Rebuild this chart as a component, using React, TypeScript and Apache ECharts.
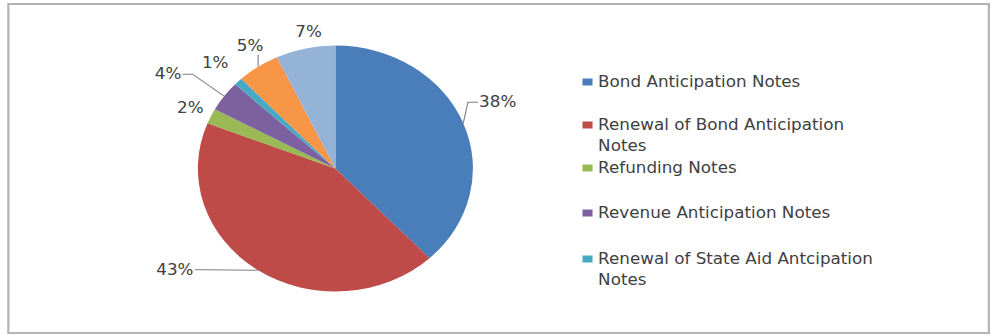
import React, { useEffect, useRef } from "react";
import * as echarts from "echarts";

// Data
const categories = [
  "Bond Anticipation Notes",
  "Renewal of Bond Anticipation Notes",
  "Refunding Notes",
  "Revenue Anticipation Notes",
  "Renewal of State Aid Antcipation Notes",
  "Tax Anticipation Notes",
  "Budget Notes",
];
const values = [38, 43, 2, 4, 1, 5, 7];
const colors = ["#4A7EBB", "#BE4B48", "#98B954", "#7D60A0", "#46AAC5", "#F79646", "#95B3D7"];
// Legend shows only the first five entries, as in the reference
const legendTexts = [
  "Bond Anticipation Notes",
  "Renewal of Bond Anticipation\nNotes",
  "Refunding Notes",
  "Revenue Anticipation Notes",
  "Renewal of State Aid Antcipation\nNotes",
];
// leader style per slice: "side" = stub + diagonal, "up" = vertical, "" = none
const leaderStyle = ["side", "side", "", "side", "", "up", ""];

const SCALE_X = 1.118;
const BASE_W = Math.round(996 / SCALE_X);
const H = 335;
const legendCenters = [82, 125, 168, 213, 259];
const LINE_H = 21;
// label nudges (screen px) relative to ECharts default outside position
const labelShift: [number, number][] = [
  [-7, -18],
  [-45, -7],
  [10, -5],
  [-24, -20],
  [8, -14],
  [21, -14],
  [33, -9],
];

export default function App() {
  const ref = useRef<HTMLDivElement>(null);
  useEffect(() => {
    if (!ref.current) return;
    const chart = echarts.init(ref.current, undefined, { renderer: "svg" });
    const legends = legendTexts.map((t, i) => {
      const twoLine = t.includes("\n");
      return {
        data: [categories[i]],
        orient: "vertical",
        left: 521,
        top: legendCenters[i] - (twoLine ? LINE_H * 1.5 : LINE_H / 2),
        padding: 0,
        icon: "rect",
        itemWidth: 9,
        itemHeight: 7,
        selectedMode: false,
        formatter: () => (twoLine ? "\n" + t : t),
        textStyle: {
          fontFamily: "DejaVu Sans",
          fontSize: 15,
          lineHeight: LINE_H,
          color: "#404040",
        },
      };
    });
    chart.setOption({
      animation: false,
      backgroundColor: "#ffffff",
      color: colors,
      graphic: [
        {
          type: "rect",
          shape: { x: 7.5, y: 4, width: 877, height: 329 },
          style: { fill: "none", stroke: "#b4b4b4", lineWidth: 2 },
          silent: true,
        },
      ],
      legend: legends,
      series: [
        {
          type: "pie",
          center: [300, 168.5],
          radius: 123,
          startAngle: 90,
          clockwise: true,
          data: categories.map((name, i) => ({
            name,
            value: values[i],
            labelLine: { show: leaderStyle[i] !== "" },
          })),
          itemStyle: { borderWidth: 0 },
          label: {
            show: true,
            position: "outside",
            formatter: "{c}%",
            fontFamily: "DejaVu Sans",
            fontSize: 15,
            color: "#404040",
          },
          labelLine: {
            show: true,
            length: 8,
            length2: 8,
            lineStyle: { color: "#7f7f7f", width: 1 },
          },
          labelLayout: (p: any) => {
            const i = p.dataIndex;
            const s = labelShift[i] || [0, 0];
            const dx = s[0] / SCALE_X;
            const dy = s[1];
            const out: any = { dx, dy };
            const pts = p.labelLinePoints;
            const r = p.labelRect;
            if (pts && r && leaderStyle[i]) {
              const start = pts[0];
              const rx = r.x + dx;
              const ry = r.y + dy;
              if (leaderStyle[i] === "up") {
                out.labelLinePoints = [start, [start[0], ry + r.height + 1]];
              } else {
                const cxLabel = rx + r.width / 2;
                const right = cxLabel > start[0];
                const endX = right ? rx - 1 : rx + r.width + 1;
                const endY = ry + r.height / 2;
                const midX = endX + (right ? -9 : 9);
                out.labelLinePoints = [start, [midX, endY], [endX, endY]];
              }
            }
            return out;
          },
          emphasis: { disabled: true },
        },
      ],
    });
    return () => chart.dispose();
  }, []);
  return (
    <div
      style={{
        position: "absolute",
        left: 0,
        top: 0,
        width: 996,
        height: H,
        overflow: "hidden",
        background: "#fff",
      }}
    >
      <div
        ref={ref}
        style={{
          width: BASE_W,
          height: H,
          transform: `scaleX(${SCALE_X})`,
          transformOrigin: "0 0",
        }}
      />
    </div>
  );
}
